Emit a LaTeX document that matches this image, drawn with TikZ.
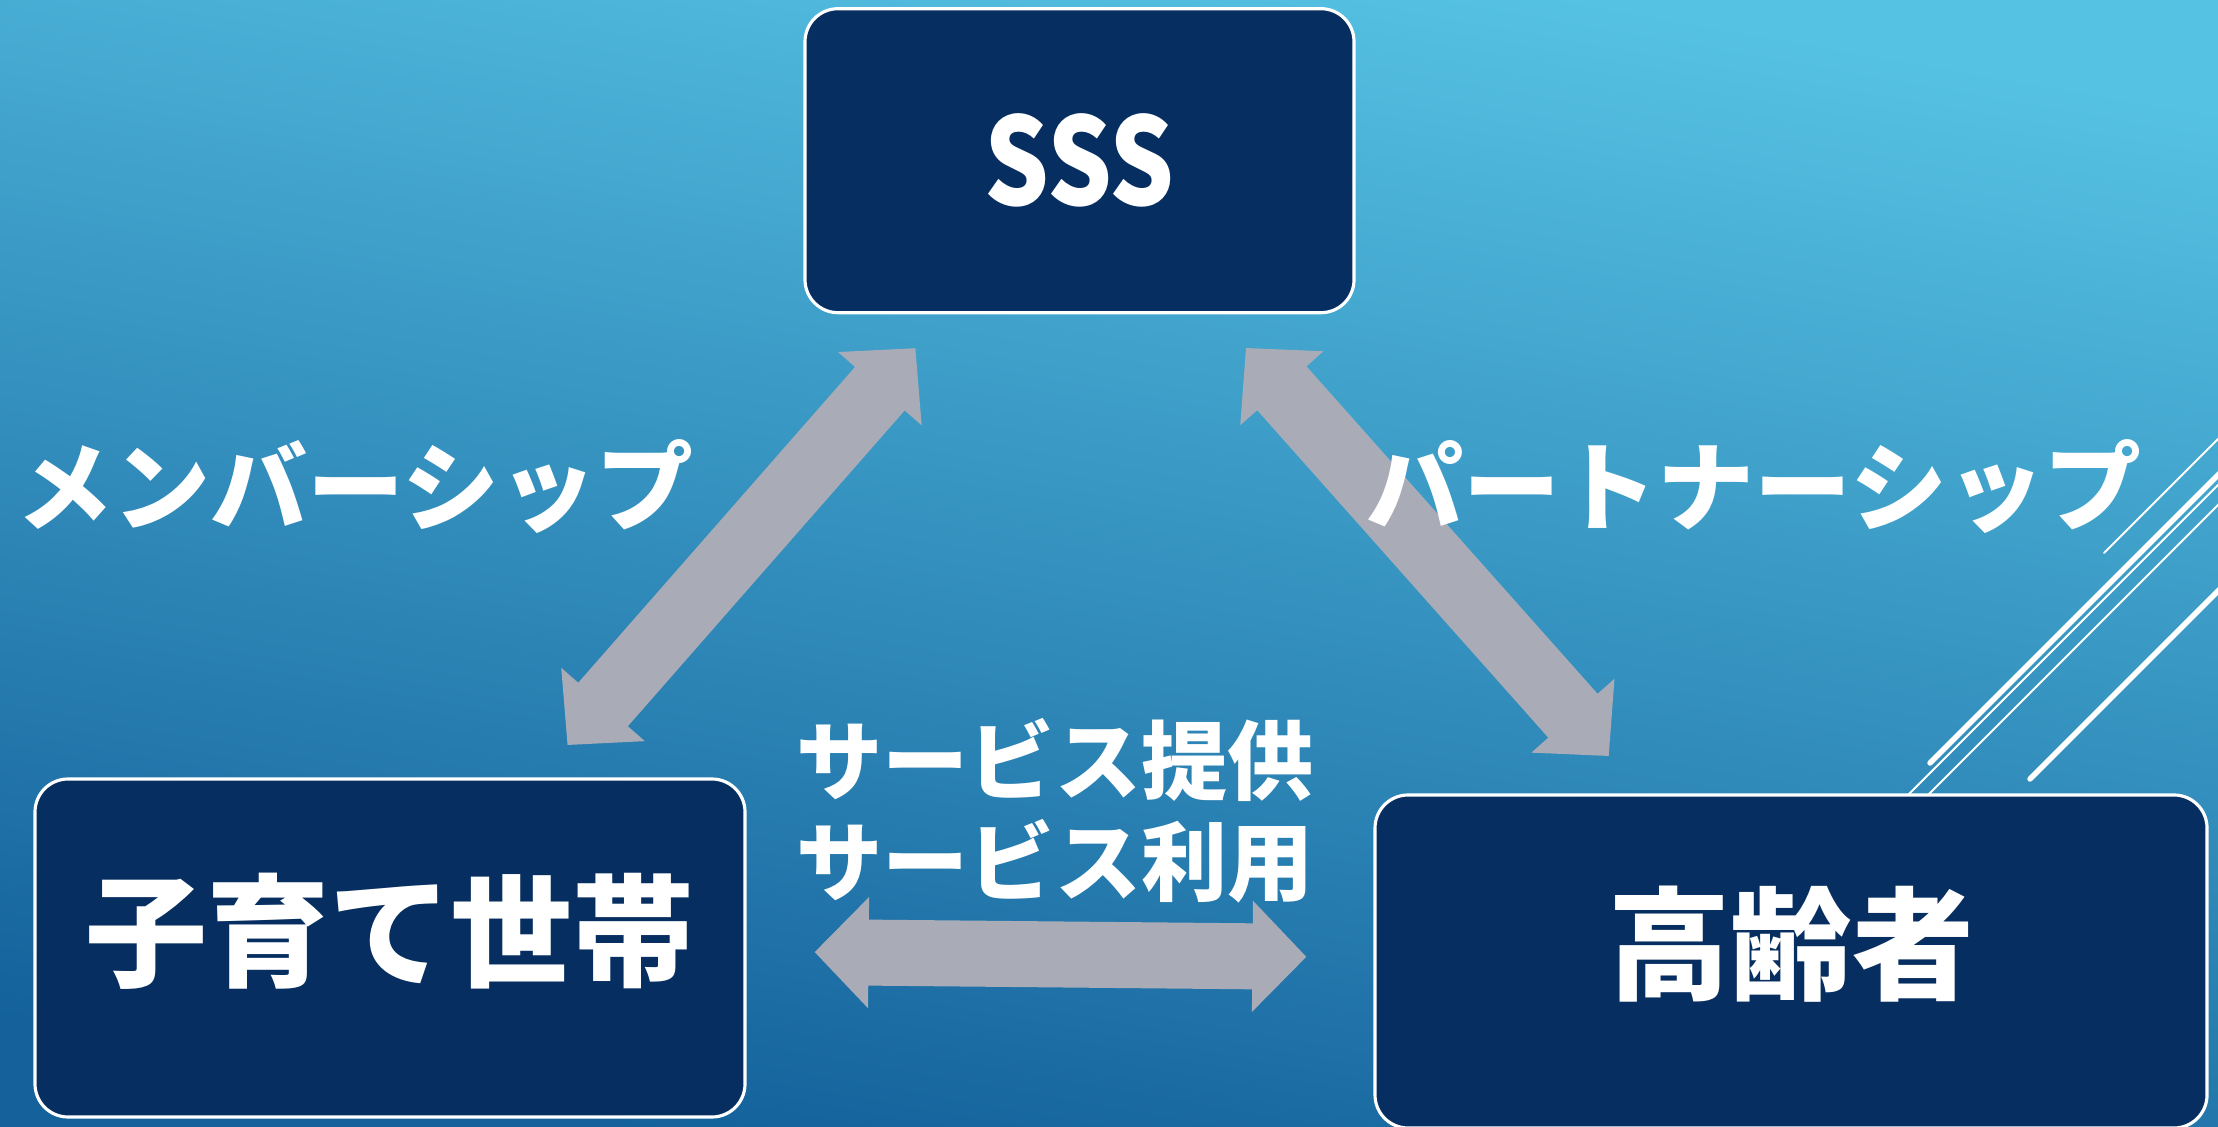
\documentclass[tikz,border=0pt]{standalone}
\usepackage{fontspec}
\usepackage{tikz}
\usetikzlibrary{positioning}
\usetikzlibrary{arrows.meta}
\newfontfamily\jpfont{Noto Sans CJK JP}
\newfontfamily\jpnarrow[FakeStretch=0.84]{Noto Sans CJK JP}
\definecolor{bgtop}{RGB}{86,194,227}
\definecolor{bgbottom}{RGB}{20,97,155}
\definecolor{navy}{RGB}{7,46,96}
\definecolor{arrowgray}{RGB}{169,172,182}

\begin{document}
\begin{tikzpicture}[font=\jpfont]
    \tikzstyle{box}=[draw=white, line width=0.9pt, fill=navy, rounded corners=0.33cm, text=white, inner sep=0pt]
    \tikzstyle{bigtext}=[font=\jpfont\bfseries\fontsize{34.7pt}{40pt}\selectfont]
    \tikzstyle{linktext}=[text=white, inner sep=0pt, font=\jpfont\bfseries\fontsize{27.6pt}{32pt}\selectfont]
    \tikzstyle{servtext}=[text=white, inner sep=0pt, align=center, font=\jpfont\bfseries\fontsize{24.5pt}{28.7pt}\selectfont]
    \tikzstyle{fat}=[draw=arrowgray, line width=0.66cm, {Triangle[length=0.54cm, width=1.08cm]}-{Triangle[length=0.54cm, width=1.08cm]}]
    \tikzstyle{deco}=[draw=white, line cap=round]

    % background
    \useasboundingbox (0,0) rectangle (22.18,-11.27);
    \shade[top color=bgtop, bottom color=bgbottom, shading angle=-10] (0,0) rectangle (22.18,-11.27);

    % slanted lines on the right
    \draw[deco, line width=0.02cm] (21.04,-5.53) -- (22.40,-4.17);
    \draw[deco, line width=0.055cm] (19.30,-7.63) -- (22.40,-4.53);
    \draw[deco, line width=0.02cm] (18.80,-8.23) -- (22.40,-4.63);
    \draw[deco, line width=0.02cm] (19.00,-8.23) -- (22.40,-4.83);
    \draw[deco, line width=0.055cm] (20.30,-7.79) -- (22.40,-5.69);

    \node[box, minimum width=5.49cm, minimum height=3.04cm] (sss) at (10.795,-1.607)
        {\jpnarrow\bfseries\fontsize{34.5pt}{40pt}\selectfont SSS};
    \node[box, bigtext, minimum width=7.10cm, minimum height=3.38cm] (kosodate) at (3.90,-9.48)
        {\raisebox{0.17cm}[\height][\depth]{子育て世帯}};
    \node[box, bigtext, minimum width=8.32cm, minimum height=3.33cm] (koureisha) at (17.91,-9.615)
        {\raisebox{0.17cm}[\height][\depth]{高齢者}};

    \draw[fat, shorten <=0.45cm, shorten >=0.43cm] (sss) -- (kosodate);
    \draw[fat, shorten <=0.45cm, shorten >=0.50cm] (sss) -- (koureisha);
    \draw[fat, shorten <=0.68cm, shorten >=0.67cm] (kosodate) -- (koureisha);

    \node[linktext] (member) at (3.55,-4.87) {メンバーシップ};
    \node[linktext] (partner) at (17.54,-4.87) {パートナーシップ};
    \node[servtext] (service) at (10.55,-8.11) {サービス提供\\サービス利用};
\end{tikzpicture}
\end{document}
